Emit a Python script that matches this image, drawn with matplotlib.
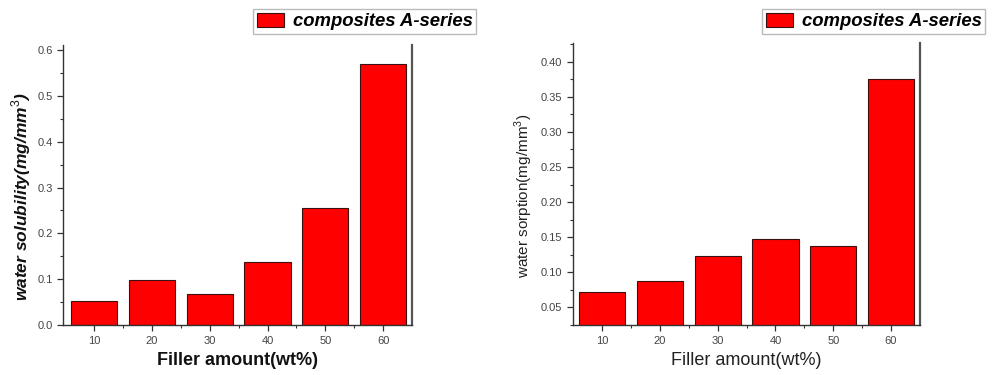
import matplotlib.pyplot as plt
from matplotlib.ticker import MultipleLocator, FixedLocator
from matplotlib.patches import Patch

plt.rcParams['font.family'] = ['Liberation Sans', 'DejaVu Sans']
plt.rcParams['mathtext.fontset'] = 'custom'
plt.rcParams['mathtext.rm'] = 'Liberation Sans'

filler = [10, 20, 30, 40, 50, 60]
solubility = [0.053, 0.098, 0.068, 0.137, 0.256, 0.569]
sorption = [0.0714, 0.0875, 0.1227, 0.1473, 0.1373, 0.3757]
legend_label = 'composites A-series'

bar_color = '#ff0000'
edge_color = '#3a1010'
spine_color = '#333333'
tick_color = '#444444'

fig = plt.figure(figsize=(9.97, 3.75), dpi=100)

ax1 = fig.add_axes([0.0632, 0.1333, 0.350, 0.7467])
ax2 = fig.add_axes([0.5744, 0.1333, 0.3483, 0.751])


def style_axes(ax):
    ax.spines['top'].set_visible(False)
    for s in ['left', 'bottom']:
        ax.spines[s].set_color(spine_color)
        ax.spines[s].set_linewidth(1.0)
    ax.spines['right'].set_color('#555555')
    ax.spines['right'].set_linewidth(1.6)
    ax.tick_params(axis='both', which='both', direction='out',
                   colors=spine_color, labelcolor=tick_color, labelsize=8,
                   right=False, top=False)
    ax.tick_params(which='major', length=4, width=0.9)
    ax.tick_params(which='minor', length=2.5, width=0.8)
    ax.set_xticks(filler)
    ax.xaxis.set_minor_locator(FixedLocator([15, 25, 35, 45, 55]))
    ax.tick_params(axis='x', pad=4)


# water solubility
ax1.bar(filler, solubility, width=8, color=bar_color, edgecolor=edge_color, linewidth=0.8)
style_axes(ax1)
ax1.set_xlim(4.6, 65)
ax1.set_ylim(0, 0.611)
ax1.yaxis.set_major_locator(MultipleLocator(0.1))
ax1.yaxis.set_minor_locator(MultipleLocator(0.05))
ax1.set_yticklabels([f'{v:.1f}' for v in ax1.get_yticks()])
ax1.set_ylabel('water solubility(mg/mm$^{3}$)', fontsize=12.5, fontweight='bold',
               fontstyle='italic', color='#111111')
ax1.yaxis.set_label_coords(-0.086, 0.457)
ax1.set_xlabel('Filler amount(wt%)', fontsize=13, fontweight='bold',
               color='#111111', labelpad=4)

# water sorption
ax2.bar(filler, sorption, width=8, color=bar_color, edgecolor=edge_color, linewidth=0.8)
style_axes(ax2)
ax2.set_xlim(4.9, 65)
ax2.set_ylim(0.025, 0.426)
ax2.yaxis.set_minor_locator(MultipleLocator(0.025))
ax2.set_yticks([0.05, 0.10, 0.15, 0.20, 0.25, 0.30, 0.35, 0.40])
ax2.set_yticklabels([f'{v:.2f}' for v in ax2.get_yticks()])
ax2.set_ylabel('water sorption(mg/mm$^{3}$)', fontsize=11, color='#222222')
ax2.yaxis.set_label_coords(-0.1085, 0.458)
ax2.set_xlabel('Filler amount(wt%)', fontsize=13, color='#222222', labelpad=4)

handle = Patch(facecolor=bar_color, edgecolor=edge_color, linewidth=0.8)
for x0 in [253 / 997, 762 / 997]:
    leg = fig.legend([handle], [legend_label], loc='upper left',
                     bbox_to_anchor=(x0, 1 - 9 / 375), frameon=True,
                     fancybox=False, borderpad=0.2, handlelength=1.5,
                     handleheight=0.8, handletextpad=0.45, borderaxespad=0,
                     prop={'size': 13.3, 'weight': 'bold', 'style': 'italic'})
    leg.get_frame().set_edgecolor('#aaaaaa')
    leg.get_frame().set_linewidth(1.0)

fig.savefig('out.png', dpi=100)
